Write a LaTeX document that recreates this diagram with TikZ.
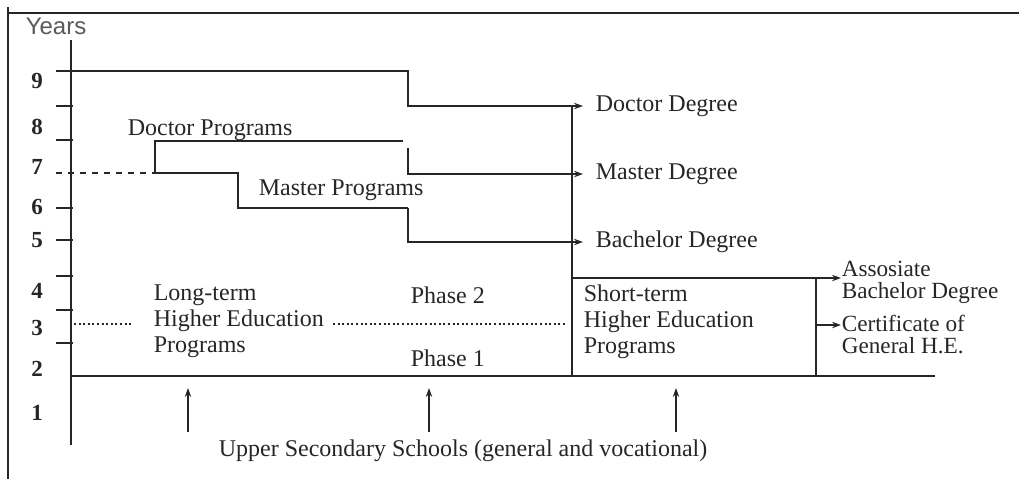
\documentclass[tikz,border=0pt]{standalone}
\usepackage{fontspec}
\setmainfont{Liberation Serif}
\setsansfont{Liberation Sans}
\usetikzlibrary{arrows.meta}

\begin{document}
\begin{tikzpicture}[x=0.5pt,y=-0.5pt,
  line width=0.8pt, draw=black!85, text=black!85,
  font=\fontsize{12}{13}\selectfont,
  arr/.style={-{Stealth[length=4.5pt,width=3.2pt]}},
  lbl/.style={anchor=west,inner sep=0pt,align=left},
  tight/.style={lbl,font=\fontsize{11.6}{11}\selectfont},
  degree/.style={anchor=west,inner xsep=6pt,inner ysep=0pt},
  yr/.style={inner sep=0pt,font=\fontsize{11.5}{11.5}\selectfont\bfseries}]
  \useasboundingbox (0,0) rectangle (1019,479);
  % frame
  \draw (8,7) -- (8,479);
  \draw (7,13) -- (1019,13);
  % years axis
  \draw (71,40) -- (71,445);
  \node[lbl,text=black!65,font=\sffamily\fontsize{12}{12}\selectfont] (years) at (25,26) {Years};
  \foreach \n/\y in {9/81,8/127,7/167,6/207,5/240,4/291,3/328,2/369,1/413}
    \node[yr] (y\n) at (37,\y) {\n};
  \foreach \y in {106,140,208,240,276,310,343}
    \draw (56,\y) -- (73,\y);
  % degrees
  \node[degree] (doc) at (583,106) {Doctor Degree};
  \node[degree] (mas) at (583,174) {Master Degree};
  \node[degree] (bach) at (583,242) {Bachelor Degree};
  \node[tight] (asso) at (841,282) {Assosiate\\Bachelor Degree};
  \node[tight] (cert) at (841,334) {Certificate of\\General H.E.};
  % long-term programs
  \draw[arr] (56,71) -- (408,71) |- (doc.west);
  \draw[dashed] (56,173) -- (155,173);
  \draw (403,141) -- (155,141) -- (155,173) -- (238,173) -- (238,208) -- (408,208);
  \draw[arr] (408,208) |- (bach.west);
  \draw[arr] (408,148) |- (mas.west);
  \node[lbl] (dprog) at (127,130) {Doctor Programs};
  \node[lbl] (mprog) at (258,190) {Master Programs};
  \node[lbl] (long) at (153,321) {Long-term\\Higher Education\\Programs};
  \node[lbl] (ph2) at (410,295) {Phase 2};
  \node[lbl] (ph1) at (410,358) {Phase 1};
  \draw[dash pattern=on 1pt off 1.3pt,line width=0.6pt] (74,324) -- (133,324);
  \draw[dash pattern=on 1pt off 1.3pt,line width=0.6pt] (333,324) -- (565,324);
  % short-term programs
  \draw (572,106) -- (572,376);
  \coordinate (stop) at (572,278);
  \coordinate (ctop) at (816,278);
  \coordinate (cmid) at (816,325);
  \draw[arr] (stop) -- (stop -| asso.west);
  \draw (ctop) -- (816,376);
  \draw[arr] (cmid) -- (cmid -| cert.west);
  \node[lbl] (short) at (583,322) {Short-term\\Higher Education\\Programs};
  % entry
  \draw (72,376) -- (935,376);
  \node[lbl] (uss) at (218,451) {Upper Secondary Schools (general and vocational)};
  \foreach \x in {188,429,676}
    \draw[arr] (\x,432) -- (\x,388);
\end{tikzpicture}
\end{document}
